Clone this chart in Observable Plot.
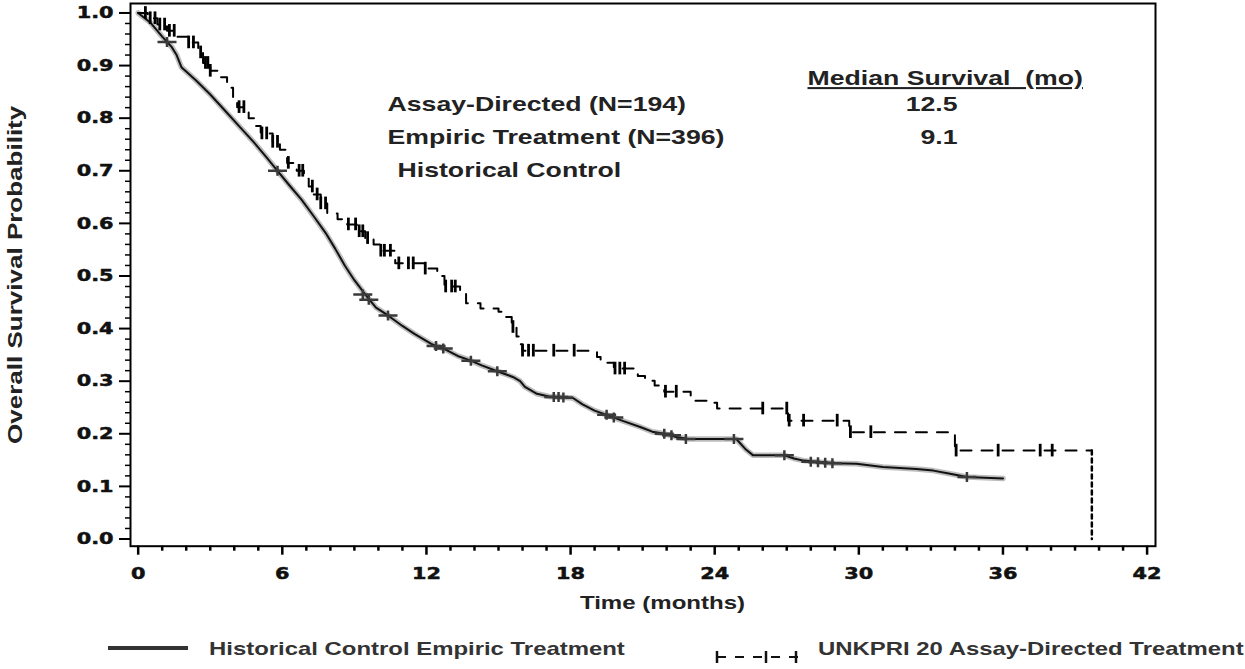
<!DOCTYPE html>
<html><head><meta charset="utf-8">
<script src="https://cdn.jsdelivr.net/npm/d3@7"></script>
<script src="https://cdn.jsdelivr.net/npm/@observablehq/plot@0.6"></script>
<style>
body{margin:0;background:#fff;}
#chart{width:1245px;height:669px;overflow:hidden;background:#fff}
#chart svg{display:block}
</style></head><body><div id="chart"></div>
<script>
// ---- Historical control, empiric treatment (solid) ----
const histTime = [0,0.5,1.0,1.4,1.6,1.8,2.4,3.0,3.6,4.2,4.8,5.3,5.8,6.3,6.8,7.3,7.8,8.2,8.6,9.0,9.5,9.9,10.4,11.0,11.5,12.2,12.8,13.3,13.85,14.3,14.95,15.6,15.9,16.1,16.6,17.1,18.1,18.5,19.0,19.5,20.2,20.9,21.4,21.9,22.4,22.9,24.9,25.3,25.6,26.9,27.3,27.7,28.9,29.9,31.0,32.4,33.1,33.8,34.5,36.0];
const histSurv = [1.0,0.982,0.955,0.935,0.92,0.897,0.872,0.845,0.815,0.785,0.755,0.728,0.70,0.672,0.645,0.614,0.582,0.552,0.52,0.492,0.462,0.44,0.425,0.405,0.39,0.371,0.36,0.348,0.339,0.33,0.319,0.308,0.30,0.289,0.276,0.271,0.268,0.256,0.244,0.236,0.224,0.213,0.204,0.2,0.194,0.19,0.19,0.17,0.159,0.159,0.153,0.149,0.144,0.143,0.137,0.133,0.130,0.124,0.118,0.115];
const histCensorTime = [1.2,5.8,9.35,9.6,10.4,12.4,12.7,13.85,14.95,17.3,17.5,17.7,19.5,19.8,21.9,22.2,22.8,24.8,26.9,28.0,28.3,28.6,28.9,34.5];
const histCensorSurv = [0.945,0.70,0.465,0.455,0.425,0.367,0.362,0.339,0.319,0.27,0.27,0.269,0.236,0.231,0.2,0.197,0.19,0.19,0.159,0.147,0.146,0.145,0.144,0.118];

// ---- Assay-directed treatment (dashed) ----
const assayTime = [0,0.4,0.8,1.2,1.6,2.1,2.5,2.7,3.0,3.4,3.7,3.95,4.12,4.6,4.9,5.1,5.6,5.9,6.2,6.6,6.9,7.1,7.3,7.6,7.87,8.3,8.7,9.1,9.45,9.8,10.1,10.7,11.9,12.45,12.75,13.4,13.65,14.25,15.0,15.3,15.55,15.75,15.9,16.0,19.1,19.25,19.8,20.8,21.1,21.5,21.9,23.0,23.7,24.1,27.05,29.6,34.0,39.7];
const assaySurv = [1.0,0.99,0.978,0.966,0.955,0.944,0.925,0.905,0.89,0.878,0.858,0.838,0.821,0.80,0.785,0.771,0.755,0.74,0.715,0.70,0.685,0.67,0.655,0.638,0.619,0.608,0.598,0.585,0.572,0.56,0.548,0.524,0.514,0.5,0.48,0.472,0.448,0.438,0.432,0.422,0.403,0.385,0.37,0.358,0.346,0.335,0.324,0.31,0.301,0.292,0.28,0.263,0.259,0.248,0.225,0.203,0.168,0.168];
const assayFinalTime = 39.7;
const assayFinalSurv = 0.0;
const assayCensorTime = [0.3,0.5,0.7,0.9,1.1,1.3,1.5,2.1,2.3,2.6,2.8,2.9,3.0,4.2,4.4,5.15,5.35,5.6,5.8,6.25,6.7,6.85,7.25,7.45,7.6,7.8,8.75,9.05,9.2,9.35,9.55,10.1,10.25,10.5,10.85,11.25,11.45,11.95,12.8,13.05,13.2,15.6,16.0,16.25,16.45,17.3,18.15,19.85,20.05,20.25,21.95,22.4,26.0,27.0,27.1,27.7,29.1,29.65,30.5,34.05,35.8,37.55,38.05];
const assayCensorSurv = [1.0,0.99,0.99,0.978,0.978,0.966,0.966,0.944,0.944,0.925,0.905,0.905,0.89,0.821,0.821,0.771,0.771,0.755,0.755,0.715,0.70,0.70,0.67,0.655,0.638,0.638,0.598,0.598,0.585,0.585,0.572,0.548,0.548,0.548,0.524,0.524,0.524,0.514,0.48,0.48,0.48,0.403,0.358,0.358,0.358,0.358,0.358,0.324,0.324,0.324,0.28,0.28,0.248,0.248,0.225,0.225,0.225,0.203,0.203,0.168,0.168,0.168,0.168];

// ---- Axes and texts ----
const xTicks = [0,6,12,18,24,30,36,42];
const xMinorTicks = d3.range(0,43).filter(d => d % 6 !== 0);
const yTicks = [0,0.1,0.2,0.3,0.4,0.5,0.6,0.7,0.8,0.9,1.0];
const yMinorTicks = d3.range(0,51).map(i => i/50).filter((d,i) => i % 5 !== 0);
const xDomain = [-0.32, 42.35];
const yDomain = [-0.0137, 1.018];
const xLabel = "Time (months)";
const yLabel = "Overall Survival Probability";
const medianHeader = "Median Survival\u00a0\u00a0(mo)";
const groupLabels = ["Assay-Directed (N=194)", "Empiric Treatment (N=396)", "Historical Control"];
const medianValues = ["12.5", "9.1"];
const legendLabels = ["Historical Control Empiric Treatment", "UNKPRI 20 Assay-Directed Treatment"];

const hist = histTime.map((t,i) => ({t, s: histSurv[i]}));
const histCensor = histCensorTime.map((t,i) => ({t, s: histCensorSurv[i]}));
const assay = assayTime.map((t,i) => ({t, s: assaySurv[i]}));
const assayDrop = [assay[assay.length-1], {t: assayFinalTime, s: assayFinalSurv}];
const assayCensor = assayCensorTime.map((t,i) => ({t, s: assayCensorSurv[i]}));

const plusSymbol = {draw(ctx, size){ const r = Math.sqrt(size/Math.PI); ctx.moveTo(-r*1.9,0); ctx.lineTo(r*1.9,0); ctx.moveTo(0,-r); ctx.lineTo(0,r); }};

const SANS = "Liberation Sans, Arial, sans-serif";
const TICKFONT = {fontFamily: "DejaVu Sans", fontWeight: "bold", fontSize: 16, fill: "#111", stroke: "#111", strokeWidth: 0.5, lineAnchor: "middle"};
const txt = {fontWeight: "bold", fontFamily: SANS, fill: "#222", lineAnchor: "middle"};
const H = 625;
const plot = Plot.plot({
  width: 1245, height: H,
  marginTop: 3, marginLeft: 130, marginRight: 90, marginBottom: H - 545.7,
  x: {domain: xDomain, axis: null},
  y: {domain: yDomain, axis: null},
  style: {background: "white", color: "black", fontFamily: SANS},
  marks: [
    Plot.axisX(xMinorTicks, {anchor: "bottom", tickSize: 5, strokeWidth: 2.5, tickFormat: () => "", label: null}),
    Plot.axisX(xTicks, {anchor: "bottom", tickSize: 9, strokeWidth: 2.5, tickFormat: () => "", label: null}),
    Plot.axisY(yMinorTicks, {anchor: "left", tickSize: 5, strokeWidth: 1.5, tickFormat: () => "", label: null}),
    Plot.axisY(yTicks, {anchor: "left", tickSize: 11, strokeWidth: 2, tickFormat: () => "", label: null}),
    Plot.text(xTicks, {x: d => d, text: d => String(d), frameAnchor: "bottom", dy: 28, textAnchor: "middle", ...TICKFONT}),
    Plot.text(yTicks, {y: d => d, text: d3.format(".1f"), frameAnchor: "left", dx: -17, textAnchor: "end", ...TICKFONT}),
    Plot.line(hist, {x: "t", y: "s", stroke: "#bdbdbd", strokeWidth: 5.5}),
    Plot.line(hist, {x: "t", y: "s", stroke: "#111", strokeWidth: 2}),
    Plot.dot(histCensor, {x: "t", y: "s", symbol: plusSymbol, r: 5, fill: "none", stroke: "#3a3a3a", strokeWidth: 2.5}),
    Plot.line(assay, {x: "t", y: "s", curve: "step-after", stroke: "#000", strokeWidth: 2, strokeDasharray: "11,10"}),
    Plot.line(assayDrop, {x: "t", y: "s", stroke: "#000", strokeWidth: 2.5, strokeDasharray: "4,4"}),
    Plot.ruleX(assayCensor, {x: "t", y1: d => d.s - 0.012, y2: d => d.s + 0.012, stroke: "#000", strokeWidth: 2.8}),
    Plot.frame({stroke: "#000", strokeWidth: 2}),
    Plot.text([medianHeader], {frameAnchor: "top-left", dx: 677, dy: 75, textAnchor: "start", fontSize: 20.5, ...txt}),
    Plot.text([groupLabels[0]], {frameAnchor: "top-left", dx: 257, dy: 101, textAnchor: "start", fontSize: 20.5, ...txt}),
    Plot.text([groupLabels[1]], {frameAnchor: "top-left", dx: 257, dy: 134, textAnchor: "start", fontSize: 20.5, ...txt}),
    Plot.text([groupLabels[2]], {frameAnchor: "top-left", dx: 267, dy: 167, textAnchor: "start", fontSize: 20.5, ...txt}),
    Plot.text([medianValues[0]], {frameAnchor: "top-left", dx: 827, dy: 101, textAnchor: "end", fontSize: 20.5, ...txt}),
    Plot.text([medianValues[1]], {frameAnchor: "top-left", dx: 827, dy: 134, textAnchor: "end", fontSize: 20.5, ...txt}),
    Plot.text([xLabel], {frameAnchor: "top-left", dx: 532, dy: 600, textAnchor: "middle", fontSize: 18.5, ...txt}),
    Plot.text([yLabel], {frameAnchor: "left", dx: -115, rotate: -90, textAnchor: "middle", fontSize: 20, ...txt})
  ]
});
const chart = document.getElementById("chart");
chart.appendChild(plot);
plot.querySelectorAll("text").forEach(t => { if (t.textContent === medianHeader) t.style.textDecoration = "underline"; });

// legend below the plot
const leg = d3.create("svg").attr("width", 1245).attr("height", 669 - H)
  .attr("font-family", SANS).attr("font-weight", "bold");
leg.append("line").attr("x1", 108).attr("x2", 188).attr("y1", 23).attr("y2", 23).attr("stroke", "#333").attr("stroke-width", 4);
leg.append("text").attr("x", 209).attr("y", 23).attr("dominant-baseline", "central").attr("font-size", 18.4).attr("fill", "#333").text(legendLabels[0]);
const lg = leg.append("g").attr("stroke", "#111");
lg.append("line").attr("x1", 714).attr("x2", 798).attr("y1", 32).attr("y2", 32).attr("stroke-width", 2).attr("stroke-dasharray", "9,9").attr("stroke-dashoffset", -3);
[717, 766, 796].forEach(x => lg.append("line").attr("x1", x).attr("x2", x).attr("y1", 26).attr("y2", 38).attr("stroke-width", 2.5));
leg.append("text").attr("x", 818).attr("y", 23).attr("dominant-baseline", "central").attr("font-size", 18.4).attr("fill", "#333").text(legendLabels[1]);
chart.appendChild(leg.node());

// horizontal stretch of text to match the reference's wide lettering
function stretch(svg, f){
  svg.querySelectorAll("text").forEach(t => {
    const w = t.getComputedTextLength();
    if (w > 0) { t.setAttribute("textLength", w * f); t.setAttribute("lengthAdjust", "spacingAndGlyphs"); }
  });
}
stretch(plot, 1.3);
stretch(leg.node(), 1.3);
</script></body></html>
